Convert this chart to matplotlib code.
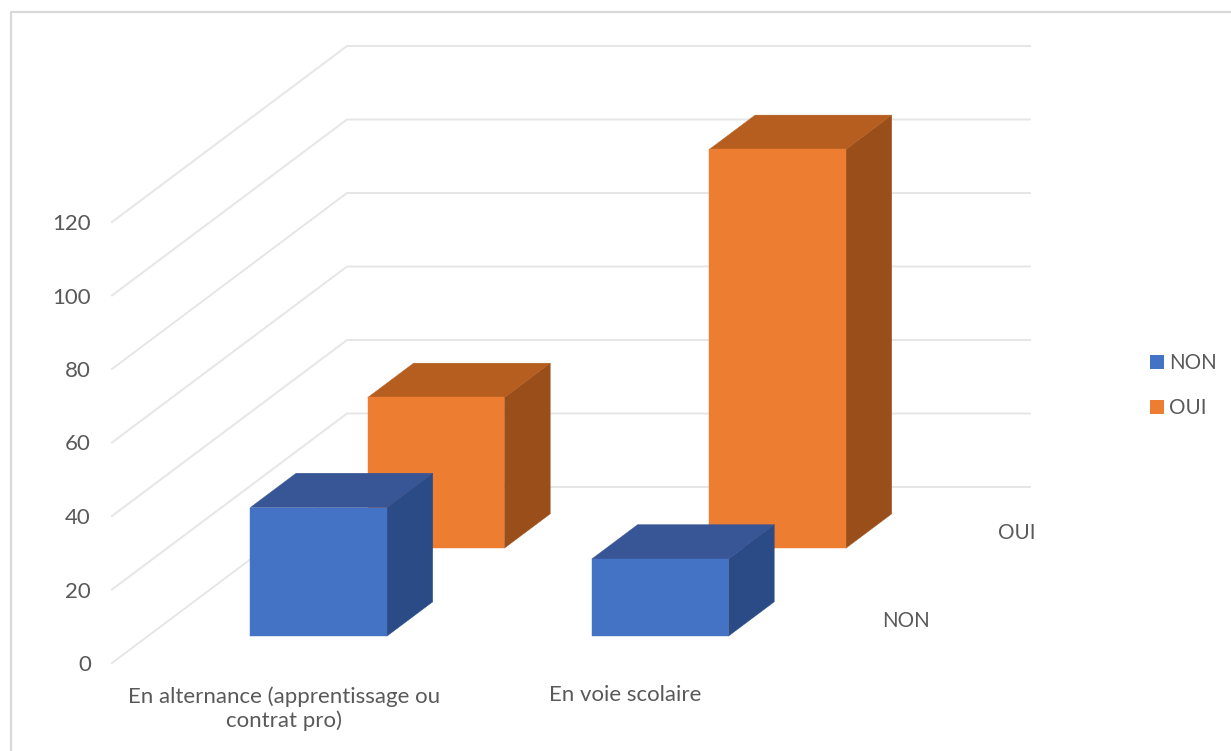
# Recreation of the Excel 3D column chart: oblique projection on a plain 2D axes

import matplotlib
matplotlib.use("Agg")
import matplotlib.pyplot as plt
from matplotlib.patches import Polygon, Rectangle

plt.rcParams["font.family"] = ["Lato", "DejaVu Sans"]

# Data
categories = ["En alternance (apprentissage ou\ncontrat pro)", "En voie scolaire"]
series_names = ["NON", "OUI"]
non_values = [35, 21]
oui_values = [41, 108.5]
y_ticks = [0, 20, 40, 60, 80, 100, 120]

# Colours
faces = {"NON": "#4472C4", "OUI": "#ED7D31"}
tops = {"NON": "#385595", "OUI": "#B55E20"}
sides = {"NON": "#2A4B86", "OUI": "#9A4F1B"}
grid_color = "#E6E6E6"
text_color = "#595959"

W, H = 1231, 751
PX_CAT = 341.5     # pixels per category
PX_VAL = 3.675     # pixels per value unit
X0, Y0 = 112, 663  # front left corner of the floor
OX = 117.5 / PX_CAT  # depth shift per series, in category units
OY = 88 / PX_VAL     # depth shift per series, in value units


def proj(u, d, v):
    return u + d * OX, v + d * OY


def px(x, y):
    return x / W, 1 - y / H


def draw_bar(ax, cat, depth, value, name):
    u0, u1 = cat + 0.3, cat + 0.7
    d0, d1 = depth + 0.305, depth + 0.695
    front = [proj(u0, d0, 0), proj(u1, d0, 0), proj(u1, d0, value), proj(u0, d0, value)]
    side = [proj(u1, d0, 0), proj(u1, d1, 0), proj(u1, d1, value), proj(u1, d0, value)]
    top = [proj(u0, d0, value), proj(u1, d0, value), proj(u1, d1, value), proj(u0, d1, value)]
    z = 5 - depth
    ax.add_patch(Polygon(side, fc=sides[name], ec=sides[name], lw=0.3, zorder=z))
    ax.add_patch(Polygon(top, fc=tops[name], ec=tops[name], lw=0.3, zorder=z))
    ax.add_patch(Polygon(front, fc=faces[name], ec=faces[name], lw=0.3, zorder=z))


fig = plt.figure(figsize=(W / 100, H / 100), dpi=100)
ax = fig.add_axes([0, 0, 1, 1])
ax.set_xlim(-X0 / PX_CAT, (W - X0) / PX_CAT)
ax.set_ylim(-(H - Y0) / PX_VAL, Y0 / PX_VAL)
ax.axis("off")

# Walls
for t in y_ticks:
    xs, ys = zip(proj(0, 0, t), proj(0, 2, t), proj(2, 2, t))
    ax.plot(xs, ys, color=grid_color, lw=1.4, zorder=1, solid_joinstyle="miter")

# Bars, back series first
for cat, v in enumerate(oui_values):
    draw_bar(ax, cat, 1, v, "OUI")
for cat, v in enumerate(non_values):
    draw_bar(ax, cat, 0, v, "NON")

# Chart border (left and top only are inside the picture)
fig.add_artist(plt.Line2D([10.5 / W, 10.5 / W, 1], [0, 1 - 11.5 / H, 1 - 11.5 / H],
                          color="#D9D9D9", lw=1.6))

FS = 16
FS_CAPS = 14.8
# Value axis labels
for t in y_ticks:
    x, y = px(91, Y0 - t * PX_VAL + 2)
    fig.text(x, y, str(t), ha="right", va="center", fontsize=FS, color=text_color)

# Category labels
x, y = px(284, 709)
fig.text(x, y, categories[0], ha="center", va="center", fontsize=FS, color=text_color, linespacing=1.2)
x, y = px(625, 695)
fig.text(x, y, categories[1], ha="center", va="center", fontsize=FS, color=text_color)

# Depth axis labels
x, y = px(906, 621)
fig.text(x, y, series_names[0], ha="center", va="center", fontsize=FS_CAPS, color=text_color)
x, y = px(1017, 533)
fig.text(x, y, series_names[1], ha="center", va="center", fontsize=FS_CAPS, color=text_color)

# Legend
for name, ly in zip(series_names, [362, 407]):
    x, y = px(1150, ly + 7)
    fig.add_artist(Rectangle((x, y), 14 / W, 14 / H, transform=fig.transFigure, fc=faces[name], ec="none"))
    x, y = px(1169, ly + 1)
    fig.text(x, y, name, ha="left", va="center", fontsize=FS_CAPS, color=text_color)

fig.savefig("out.png", dpi=100)
